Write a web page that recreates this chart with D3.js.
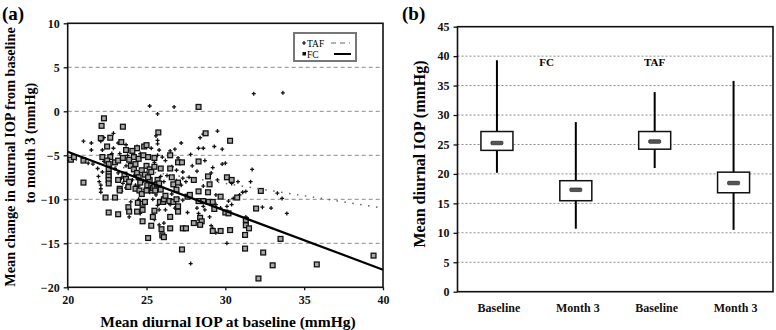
<!DOCTYPE html>
<html>
<head>
<meta charset="utf-8">
<script src="https://cdn.jsdelivr.net/npm/d3@7"></script>
<style>
  body { margin: 0; background: #fff; }
  svg text { font-family: "Liberation Serif", "Times New Roman", serif; }
  .tick text { font-weight: bold; font-size: 12px; fill: #111; }
  .tick line { stroke: #111; stroke-width: 1.3; }
</style>
</head>
<body>
<div id="graphicContainer"></div>
<script>

// ---- panel (a) data ----
const scatterTicksX = [20, 25, 30, 35, 40]
const scatterTicksY = [-20, -15, -10, -5, 0, 5, 10]
const scatterGrid = [-15, -10, -5, 0, 5]

// FC: [baseline IOP, change at month 3]
const fcPoints = [
  [28.3,0.5],[22.3,-0.8],[22.15,-1.65],[23.5,-1.75],[25.75,-2.4],[28.75,-2.5],[30.3,-3.35],
  [22.1,-3.05],[22.7,-3.0],[22.5,-4.0],[23.4,-3.5],[24.85,-4.0],[25.0,-3.85],[24.4,-4.2],[24.1,-4.5],[23.7,-4.4],
  [20.2,-5.5],[20.4,-5.2],[21.0,-5.6],[22.2,-5.2],[22.7,-5.2],[22.5,-5.6],[23.0,-5.8],[23.2,-5.6],[23.5,-5.3],
  [23.9,-5.5],[24.2,-5.2],[24.5,-5.4],[24.8,-5.0],[25.1,-5.2],[25.5,-5.3],[26.5,-5.0],[27.0,-5.8],[27.25,-5.8],[28.3,-5.7],
  [22.6,-6.0],[22.6,-6.6],[22.6,-7.1],[22.6,-7.4],[22.6,-7.8],[22.6,-8.2],
  [23.2,-7.8],[23.3,-8.8],[23.3,-9.0],[23.0,-9.8],[23.6,-7.2],[23.7,-7.7],[23.9,-8.0],[23.85,-8.6],[24.0,-6.2],
  [24.2,-6.6],[24.3,-6.0],[24.4,-7.0],[24.5,-7.5],[24.6,-8.1],[24.3,-8.8],[24.55,-9.0],[24.45,-10.4],[24.75,-10.5],
  [24.9,-10.3],[24.7,-9.4],[25.0,-9.0],[25.05,-8.4],[25.2,-7.8],[25.3,-8.4],[25.35,-9.0],[25.4,-8.7],[25.5,-8.5],
  [25.55,-9.0],[25.65,-8.3],[25.7,-7.8],[25.8,-8.2],[25.9,-8.9],[25.85,-10.3],[26.05,-10.3],[26.1,-10.0],[26.2,-9.6],
  [25.0,-6.2],[25.2,-6.6],[25.3,-6.9],[25.5,-6.3],[25.9,-6.5],[24.7,-6.7],[24.9,-7.2],[25.1,-7.5],
  [26.5,-6.5],[26.6,-7.5],[26.7,-8.3],[26.9,-8.9],[27.0,-8.1],[26.45,-10.2],[26.7,-10.3],[26.9,-10.0],[27.0,-10.8],
  [27.0,-11.4],[27.6,-9.7],[27.75,-9.5],[28.0,-7.8],[28.3,-9.1],[28.9,-9.2],[28.9,-7.4],[29.0,-8.3],[28.3,-10.2],
  [28.6,-10.2],[28.95,-10.3],[29.2,-10.3],[29.7,-9.7],[29.3,-11.1],[30.0,-11.5],[30.2,-11.6],[30.1,-7.5],[30.4,-7.8],[30.75,-9.8],
  [21.0,-8.1],[22.6,-11.5],[23.2,-11.7],[22.4,-9.8],[23.85,-10.9],[23.9,-11.4],[24.4,-11.4],[24.75,-11.2],[24.75,-12.5],
  [25.4,-12.0],[25.5,-11.3],[25.3,-13.0],[25.1,-14.4],[25.95,-13.4],[26.0,-14.1],[26.1,-14.3],[26.5,-13.3],[26.5,-12.0],
  [27.3,-13.3],[27.5,-13.3],[27.25,-15.7],[28.0,-12.7],[28.4,-12.1],[28.5,-12.5],[28.4,-12.9],[29.2,-13.6],[29.7,-13.6],[30.3,-13.5],
  [31.3,-12.35],[31.3,-12.95],[31.5,-13.3],[31.25,-14.05],[31.25,-15.6],[31.95,-11.05],[32.25,-9.05],[32.1,-19.0],
  [32.4,-16.05],[33.0,-17.5],[33.5,-14.5],[35.8,-17.4],[39.4,-16.4]
]

// TAF: [baseline IOP, change at month 3]
const tafPoints = [
  [25.2,0.6],[26.75,0.5],[25.7,-0.3],[31.8,2.0],[33.65,2.1],[29.5,-2.25],[28.6,-2.6],[28.4,-3.0],[29.3,-4.0],
  [25.6,-2.8],[25.7,-3.3],[25.7,-3.7],[26.8,-4.3],[28.3,-4.2],[28.6,-4.2],[29.8,-4.3],[27.2,-3.6],[21.0,-3.4],
  [21.5,-3.6],[22.1,-3.4],[22.3,-3.0],[22.9,-2.5],[23.2,-3.6],[23.7,-3.8],[24.4,-4.0],[21.5,-4.4],[22.2,-4.4],
  [26.5,-4.5],[25.3,-4.2],[25.8,-4.4],[27.8,-4.9],[30.0,-5.9],[29.8,-6.0],[31.7,-6.6],[29.2,-6.4],[28.2,-6.8],
  [27.3,-6.9],[26.6,-6.3],[26.2,-5.6],[27.0,-5.3],[28.7,-5.6],[26.0,-5.2],[25.7,-5.0],[23.8,-5.0],[23.3,-4.8],[22.8,-4.8],
  [21.6,-6.0],[21.9,-6.5],[22.2,-6.9],[21.95,-7.4],[22.0,-8.0],[22.1,-8.4],[22.1,-8.8],[22.1,-9.2],[23.0,-6.5],
  [23.2,-7.0],[23.4,-7.6],[23.5,-8.2],[23.7,-8.7],[23.4,-9.1],[24.2,-7.3],[24.1,-7.8],[24.3,-8.4],[24.5,-8.5],
  [24.8,-7.9],[24.9,-8.9],[25.2,-9.2],[25.6,-9.5],[25.4,-10.0],[25.7,-10.7],[25.8,-11.2],[25.4,-11.8],[25.5,-12.3],
  [25.8,-12.9],[26.1,-12.7],[26.2,-11.2],[26.3,-9.9],[26.6,-9.4],[26.5,-10.6],[26.8,-11.0],[27.0,-9.9],[27.2,-8.4],
  [27.5,-8.0],[27.7,-7.5],[27.3,-10.1],[27.6,-11.5],[28.2,-11.0],[28.3,-11.6],[28.7,-11.2],[29.0,-12.0],[29.2,-13.3],
  [29.4,-13.8],[29.1,-13.0],[28.6,-10.8],[29.4,-10.6],[29.7,-11.0],[30.1,-10.8],[30.1,-15.0],[27.8,-17.3],[30.4,-10.6],
  [30.5,-9.9],[30.9,-9.5],[31.1,-9.2],[31.3,-9.1],[31.6,-8.0],[30.8,-8.0],[30.4,-8.2],[32.35,-10.9],[32.9,-11.0],
  [33.6,-9.9],[33.9,-11.6],[33.3,-9.3],[31.3,-12.0],[24.5,-10.0],[24.0,-10.3],[24.6,-11.6],[23.9,-12.0],[22.3,-5.7],
  [22.7,-6.2],[21.0,-5.5],[21.3,-5.9],[23.7,-6.2],[24.0,-5.9],[26.9,-6.7],[27.9,-6.2],[29.1,-7.0],[29.5,-7.8],
  [26.3,-7.3],[26.9,-7.9],[27.3,-7.6],[28.6,-8.5],[29.4,-9.5],[30.2,-10.2],[22.9,-4.2],[24.6,-4.8],[25.5,-5.8],
  [25.9,-7.4],[26.1,-8.0]
]

// regression lines, evaluated at x = 20 and 40
const fitX = [20, 40]
const fcFit = [-4.6, -18.0]
const tafFit = [-5.4, -11.0]

// ---- panel (b) data ----
const boxKeys = ["FC Baseline", "FC Month 3", "TAF Baseline", "TAF Month 3"]
const boxLabels = ["Baseline", "Month 3", "Baseline", "Month 3"]
const boxMin = [20.2, 10.7, 21.0, 10.5]
const boxQ1 = [24.0, 15.45, 24.2, 16.8]
const boxMedian = [25.25, 17.3, 25.5, 18.45]
const boxQ3 = [27.2, 18.85, 27.2, 20.3]
const boxMax = [39.3, 28.8, 33.9, 35.8]
const boxTicksY = [0, 5, 10, 15, 20, 25, 30, 35, 40, 45]
const boxGrid = [5, 10, 15, 20, 25, 30, 35, 40]

const width = 776, height = 330

const svg = d3.select("#graphicContainer").append("svg")
  .attr("width", width)
  .attr("height", height)

// shrink a text until it fits the given length
const fitText = (sel, maxLen) => {
  let size = +sel.attr("font-size")
  while (sel.node().getComputedTextLength() > maxLen && size > 8) {
    size -= 0.25
    sel.attr("font-size", size)
  }
}

// ================= panel (a) =================
const xa = d3.scaleLinear().domain([20, 40]).range([67.7, 383])
const ya = d3.scaleLinear().domain([-20, 10]).range([287.3, 23.3])

const ga = svg.append("g")

ga.append("g")
  .selectAll("line")
  .data(scatterGrid)
  .enter()
  .append("line")
  .attr("x1", xa(20))
  .attr("x2", xa(40))
  .attr("y1", d => ya(d))
  .attr("y2", d => ya(d))
  .attr("stroke", "#8a8a8a")
  .attr("stroke-width", 1)
  .attr("stroke-dasharray", "4,3")

ga.append("g")
  .selectAll("path")
  .data(tafPoints)
  .enter()
  .append("path")
  .attr("transform", d => `translate(${xa(d[0])},${ya(d[1])})`)
  .attr("d", "M-2,0H2M0,-2V2")
  .attr("stroke", "#111")
  .attr("stroke-width", 1.3)

ga.append("g")
  .selectAll("rect")
  .data(fcPoints)
  .enter()
  .append("rect")
  .attr("x", d => xa(d[0]) - 2.4)
  .attr("y", d => ya(d[1]) - 2.4)
  .attr("width", 4.8)
  .attr("height", 4.8)
  .attr("fill", "#a8a8a8")
  .attr("stroke", "#111")
  .attr("stroke-width", 1.3)

const fitLine = d3.line().x(d => xa(d[0])).y(d => ya(d[1]))

ga.append("path")
  .attr("d", fitLine(fitX.map((x, i) => [x, tafFit[i]])))
  .attr("fill", "none")
  .attr("stroke", "#666")
  .attr("stroke-width", 1.5)
  .attr("stroke-dasharray", "1.5,6.5")

ga.append("path")
  .attr("d", fitLine(fitX.map((x, i) => [x, fcFit[i]])))
  .attr("fill", "none")
  .attr("stroke", "#000")
  .attr("stroke-width", 2.2)

ga.append("rect")
  .attr("x", xa(20))
  .attr("y", ya(10))
  .attr("width", xa(40) - xa(20))
  .attr("height", ya(-20) - ya(10))
  .attr("fill", "none")
  .attr("stroke", "#111")
  .attr("stroke-width", 1.6)

ga.append("g")
  .attr("transform", `translate(${xa(20)},0)`)
  .call(d3.axisLeft(ya).tickValues(scatterTicksY).tickSize(4).tickPadding(4))
  .call(g => g.select(".domain").remove())

ga.append("g")
  .attr("transform", `translate(0,${ya(-20)})`)
  .call(d3.axisBottom(xa).tickValues(scatterTicksX).tickSize(3).tickPadding(5))
  .call(g => g.select(".domain").remove())

// legend
const legend = ga.append("g").attr("transform", "translate(294,33)")
legend.append("rect")
  .attr("width", 62).attr("height", 28)
  .attr("fill", "#fff").attr("stroke", "#777").attr("stroke-width", 2)
legend.append("path").attr("d", "M8,10h4M10,8v4").attr("stroke", "#111").attr("stroke-width", 1.2)
legend.append("text").attr("x", 13).attr("y", 13.5).attr("font-size", 9.5).text("TAF")
legend.append("line").attr("x1", 37).attr("x2", 56).attr("y1", 10).attr("y2", 10)
  .attr("stroke", "#666").attr("stroke-width", 1.2).attr("stroke-dasharray", "5,4")
legend.append("rect").attr("x", 8.5).attr("y", 19).attr("width", 3.5).attr("height", 3.5).attr("fill", "#111")
legend.append("text").attr("x", 13).attr("y", 24.5).attr("font-size", 9.5).text("FC")
legend.append("line").attr("x1", 40).attr("x2", 57).attr("y1", 21).attr("y2", 21)
  .attr("stroke", "#000").attr("stroke-width", 2)

ga.append("text")
  .attr("x", 2).attr("y", 20)
  .attr("font-size", 19).attr("font-weight", "bold")
  .text("(a)")

ga.append("text")
  .attr("x", 228).attr("y", 327)
  .attr("text-anchor", "middle")
  .attr("font-size", 15.5).attr("font-weight", "bold")
  .text("Mean diurnal IOP at baseline (mmHg)")

const yLab1 = ga.append("text")
  .attr("transform", "translate(15,157) rotate(-90)")
  .attr("text-anchor", "middle")
  .attr("font-size", 15).attr("font-weight", "bold")
  .text("Mean change in diurnal IOP from baseline")
fitText(yLab1, 260)

ga.append("text")
  .attr("transform", "translate(35,143) rotate(-90)")
  .attr("text-anchor", "middle")
  .attr("font-size", yLab1.attr("font-size")).attr("font-weight", "bold")
  .text("to month 3 (mmHg)")

// ================= panel (b) =================
const xb = d3.scaleBand().domain(boxKeys).range([457.5, 773]).paddingInner(0)
const yb = d3.scaleLinear().domain([0, 45]).range([291.7, 26.7])
const bw = xb.bandwidth()
const boxW = 32

const gb = svg.append("g")

gb.append("g")
  .selectAll("line")
  .data(boxGrid)
  .enter()
  .append("line")
  .attr("x1", xb.range()[0])
  .attr("x2", xb.range()[1])
  .attr("y1", d => yb(d))
  .attr("y2", d => yb(d))
  .attr("stroke", "#8a8a8a")
  .attr("stroke-width", 1)
  .attr("stroke-dasharray", "2,2")

const boxes = gb.append("g")
  .selectAll("g")
  .data(boxKeys)
  .enter()
  .append("g")
  .attr("transform", d => `translate(${xb(d) + bw / 2},0)`)

boxes.append("line")
  .attr("y1", (d, i) => yb(boxMax[i]))
  .attr("y2", (d, i) => yb(boxMin[i]))
  .attr("stroke", "#000")
  .attr("stroke-width", 2)

boxes.append("rect")
  .attr("x", -boxW / 2)
  .attr("width", boxW)
  .attr("y", (d, i) => yb(boxQ3[i]))
  .attr("height", (d, i) => yb(boxQ1[i]) - yb(boxQ3[i]))
  .attr("fill", "#fff")
  .attr("stroke", "#111")
  .attr("stroke-width", 1.5)

boxes.append("rect")
  .attr("x", -6)
  .attr("width", 12)
  .attr("y", (d, i) => yb(boxMedian[i]) - 1.75)
  .attr("height", 3.5)
  .attr("rx", 1)
  .attr("fill", "#555")
  .attr("stroke", "#222")
  .attr("stroke-width", 0.7)

gb.append("rect")
  .attr("x", xb.range()[0])
  .attr("y", yb(45))
  .attr("width", xb.range()[1] - xb.range()[0])
  .attr("height", yb(0) - yb(45))
  .attr("fill", "none")
  .attr("stroke", "#111")
  .attr("stroke-width", 1.6)

gb.append("g")
  .attr("transform", `translate(${xb.range()[0]},0)`)
  .call(d3.axisLeft(yb).tickValues(boxTicksY).tickSize(4).tickPadding(4))
  .call(g => g.select(".domain").remove())

gb.append("g")
  .attr("transform", `translate(2,${yb(0)})`)
  .call(d3.axisBottom(xb).tickSize(0).tickPadding(12).tickFormat((d, i) => boxLabels[i]))
  .call(g => g.select(".domain").remove())
  .call(g => g.selectAll("text").attr("font-size", 12))

gb.append("text")
  .attr("x", xb("FC Baseline") + bw * 1.13).attr("y", yb(38.3))
  .attr("text-anchor", "middle")
  .attr("font-size", 11).attr("font-weight", "bold")
  .text("FC")

gb.append("text")
  .attr("x", xb("TAF Baseline") + bw * 0.5).attr("y", yb(38.3))
  .attr("text-anchor", "middle")
  .attr("font-size", 11).attr("font-weight", "bold")
  .text("TAF")

gb.append("text")
  .attr("x", 402).attr("y", 20)
  .attr("font-size", 19).attr("font-weight", "bold")
  .text("(b)")

gb.append("text")
  .attr("transform", "translate(425,154) rotate(-90)")
  .attr("text-anchor", "middle")
  .attr("font-size", 16).attr("font-weight", "bold")
  .text("Mean diurnal IOP (mmHg)")

</script>
</body>
</html>
